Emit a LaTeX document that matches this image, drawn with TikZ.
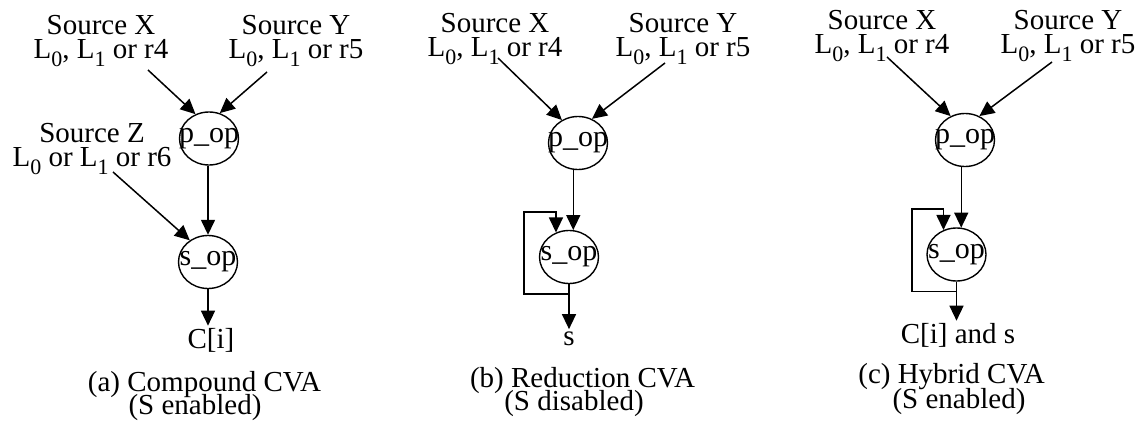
\documentclass[tikz,border=0pt]{standalone}
\usepackage{fontspec}
\setmainfont{Liberation Serif}
\usetikzlibrary{arrows.meta,shapes.geometric}
% lowered, slightly smaller index digit for register names
\newcommand\lsub[1]{\raisebox{-0.25em}{\fontsize{22}{22}\selectfont #1}}
\begin{document}
\begin{tikzpicture}[x=1pt,y=-1pt,
  every node/.style={inner sep=0pt, font=\fontsize{29}{24.5}\selectfont},
  src/.style={align=center, anchor=north},
  opnode/.style={ellipse, draw, line width=1.4pt, minimum width=59pt, minimum height=53pt,
    font=\fontsize{30}{30}\selectfont},
  outtxt/.style={anchor=base, inner sep=2pt},
  captxt/.style={anchor=base},
  edge/.style={line width=1.5pt, -{Triangle[length=15pt,width=14pt]}}
]
\useasboundingbox (0,0) rectangle (1147,420);

% ---------- (a) Compound CVA ----------
\node[src] (sxa) at (101,15) {Source X\\L\lsub{0}, L\lsub{1} or r4};
\node[src] (sya) at (296,15) {Source Y\\L\lsub{0}, L\lsub{1} or r5};
\node[src] (sza) at (92,123) {Source Z\\L\lsub{0} or L\lsub{1} or r6};
\node[opnode] (pa) at (209,138.5) {\makebox[0pt]{p\_op}};
\node[opnode] (sa) at (208,262) {\makebox[0pt]{s\_op}};
\node[outtxt] (oa) at (211,348) {C[i]};
\node[captxt] (ca1) at (204.5,391) {(a) Compound CVA};
\node[captxt] (ca2) at (195,414) {(S enabled)};
\coordinate (txa) at (148,70);
\coordinate (tya) at (267,72);
\coordinate (tza) at (113,172);
\draw[edge] (txa) -- (pa.119);
\draw[edge] (tya) -- (pa.67);
\draw[edge] (tza) -- (sa.130);
\draw[edge] (sa.north |- pa.south) -- (sa.north);
\draw[edge] (sa.south) -- (sa.south |- oa.north);

% ---------- (b) Reduction CVA ----------
\node[src] (sxb) at (495,13) {Source X\\L\lsub{0}, L\lsub{1} or r4};
\node[src] (syb) at (683,13) {Source Y\\L\lsub{0}, L\lsub{1} or r5};
\node[opnode] (pb) at (578,143) {\makebox[0pt]{p\_op}};
\node[opnode] (sb) at (569,257) {\makebox[0pt]{s\_op}};
\node[outtxt] (ob) at (569,345) {s};
\node[captxt] (cb1) at (582.5,387) {(b) Reduction CVA};
\node[captxt] (cb2) at (574,410) {(S disabled)};
\coordinate (txb) at (498,58);
\coordinate (tyb) at (665,63);
\coordinate (lb1) at ([yshift=-10pt]sb.south);
\coordinate (lb2) at (524,212);
\draw[edge] (txb) -- (pb.125);
\draw[edge] (tyb) -- (pb.60);
\draw[edge] (sb.81 |- pb.south) -- (sb.81);
\draw[edge] (lb1) -| (lb2) -| (sb.118);
\draw[edge] (sb.south) -- (sb.south |- ob.north);

% ---------- (c) Hybrid CVA ----------
\node[src] (sxc) at (882,10) {Source X\\L\lsub{0}, L\lsub{1} or r4};
\node[src] (syc) at (1068,10) {Source Y\\L\lsub{0}, L\lsub{1} or r5};
\node[opnode] (pc) at (965,140) {\makebox[0pt]{p\_op}};
\node[opnode] (sc) at (956.5,254.5) {\makebox[0pt]{s\_op}};
\node[outtxt] (oc) at (958,343) {C[i] and s};
\node[captxt] (cc1) at (951.5,383) {(c) Hybrid CVA};
\node[captxt] (cc2) at (959,408) {(S enabled)};
\coordinate (txc) at (887,57);
\coordinate (tyc) at (1052,62);
\coordinate (lc1) at ([yshift=-10pt]sc.south);
\coordinate (lc2) at (912,209);
\draw[edge] (txc) -- (pc.121);
\draw[edge] (tyc) -- (pc.59);
\draw[edge] (sc.80 |- pc.south) -- (sc.80);
\draw[edge] (lc1) -| (lc2) -| (sc.118);
\draw[edge] (sc.south) -- (sc.south |- oc.north);
\end{tikzpicture}
\end{document}
